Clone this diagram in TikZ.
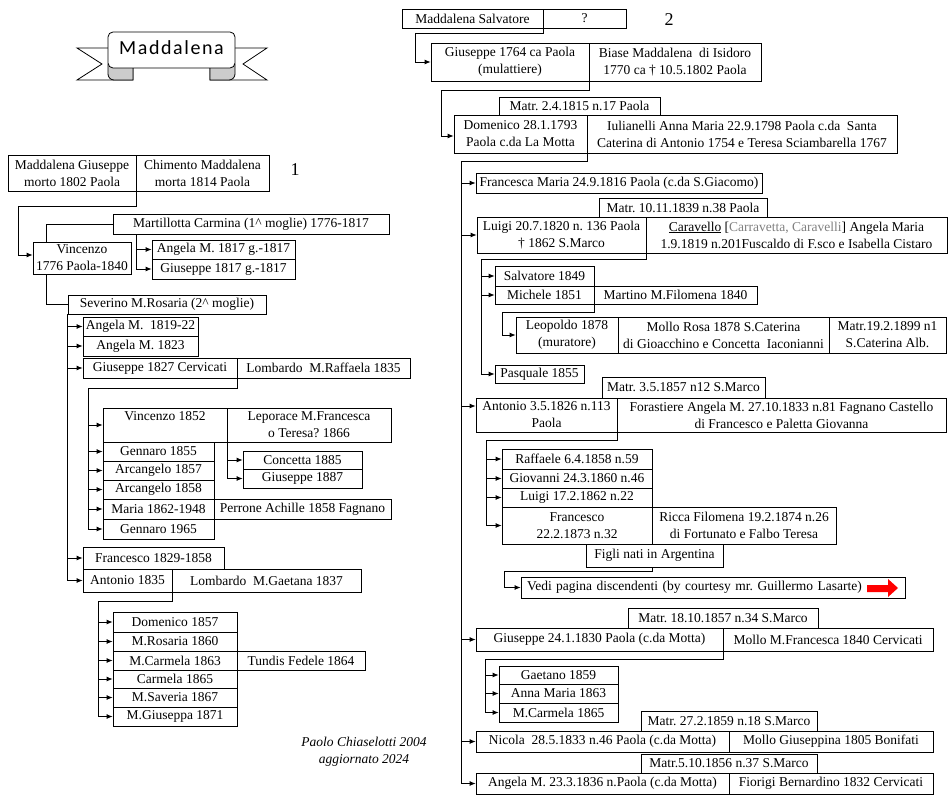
\documentclass[tikz,border=0pt]{standalone}
\usepackage{fontspec}
\setmainfont{Liberation Serif}
\newfontfamily\ribbonfont[LetterSpace=8]{Carlito}
\usetikzlibrary{arrows.meta}
\frenchspacing
\tikzset{
  bx/.style={draw, line width=0.8pt, inner sep=0pt, align=center, font=\frenchspacing\fontsize{13.5}{17}\selectfont},
  ln/.style={line width=0.8pt},
  arr/.style={line width=0.8pt, -{Latex[length=6pt,width=5pt]}},
}
\newcommand\bx[6]{\node[bx, minimum width={(#4-(#2))*1pt}, minimum height={(#5-(#3))*1pt}] (#1) at ({(#2+#4)/2},{(#3+#5)/2}) {#6};}
\begin{document}
\begin{tikzpicture}[x=1pt,y=-1pt]
\useasboundingbox (0,0) rectangle (950,800);
% ---------- ribbon ----------
\filldraw[ln, fill=white] (108,48) -- (77,48) -- (102,64) -- (77,80) -- (133,80) -- (133,67);
\filldraw[ln, fill=white] (235,48) -- (267,48) -- (243,64) -- (267,80) -- (210,80) -- (210,67);
\filldraw[ln, fill=gray!40] (108,64) -- (108,74) to[out=-90,in=180] (114,80) -- (133,80) -- (133,64) -- cycle;
\filldraw[ln, fill=gray!40] (235,64) -- (235,74) to[out=-90,in=0] (229,80) -- (210,80) -- (210,64) -- cycle;
\filldraw[ln, fill=white, rounded corners=5pt] (108,32) rectangle (235,68);
\node[font=\ribbonfont\fontsize{20}{24}\selectfont] (title) at (171.5,48) {Maddalena};
% ---------- labels ----------
\node[font=\fontsize{18}{20}\selectfont] (one) at (295,170) {1};
\node[font=\fontsize{18}{20}\selectfont] (two) at (669,20) {2};
\node[align=center, font=\itshape\fontsize{13.5}{17}\selectfont] (foot) at (364,752) {Paolo Chiaselotti 2004\\aggiornato 2024};
% ---------- left tree ----------
\bx{mg}{8}{155}{136}{191}{Maddalena Giuseppe\\morto 1802 Paola}
\bx{cm}{136}{155}{269}{191}{Chimento Maddalena\\morta 1814 Paola}
\bx{vin}{33}{242}{131}{274}{Vincenzo\\1776 Paola-1840}
\bx{mart}{113}{214}{389}{234}{Martillotta Carmina (1\textasciicircum{} moglie) 1776-1817}
\bx{ang17}{152}{240}{295}{259}{Angela M. 1817 g.-1817}
\bx{gius17}{152}{259}{295}{279}{Giuseppe 1817 g.-1817}
\bx{sev}{68}{295}{266}{314}{Severino M.Rosaria (2\textasciicircum{} moglie)}
\bx{ang19}{83}{317}{198}{336}{Angela M.\ \ 1819-22}
\bx{ang23}{83}{336}{198}{356}{Angela M. 1823}
\bx{gius27}{83}{358}{237}{378}{Giuseppe 1827 Cervicati}
\bx{lomr}{237}{358}{410}{378}{Lombardo\ \ M.Raffaela 1835}
\bx{vin52}{103}{408}{227}{442}{Vincenzo 1852\\\mbox{}}
\bx{lep}{227}{408}{391}{442}{Leporace M.Francesca\\o Teresa? 1866}
\bx{gen55}{103}{442}{214}{461}{Gennaro 1855}
\bx{arc57}{103}{461}{214}{480}{Arcangelo 1857}
\bx{arc58}{103}{480}{214}{499}{Arcangelo 1858}
\bx{mar62}{103}{499}{214}{519}{Maria 1862-1948}
\bx{gen65}{103}{519}{214}{539}{Gennaro 1965}
\bx{per}{214}{499}{391}{519}{Perrone Achille 1858 Fagnano}
\bx{con85}{243}{451}{362}{469}{Concetta 1885}
\bx{gius87}{243}{469}{362}{488}{Giuseppe 1887}
\bx{fra29}{83}{547}{224}{569}{Francesco 1829-1858}
\bx{ant35}{83}{569}{172}{592}{Antonio 1835}
\bx{lomg}{172}{569}{361}{592}{Lombardo\ \ M.Gaetana 1837}
\bx{dom57}{113}{612}{237}{632}{Domenico 1857}
\bx{ros60}{113}{632}{237}{651}{M.Rosaria 1860}
\bx{car63}{113}{651}{237}{670}{M.Carmela 1863}
\bx{tun}{237}{651}{365}{670}{Tundis Fedele 1864}
\bx{car65}{113}{670}{237}{688}{Carmela 1865}
\bx{sav67}{113}{688}{237}{707}{M.Saveria 1867}
\bx{giu71}{113}{707}{237}{726}{M.Giuseppa 1871}
% left connectors
\draw[ln] (mg.south east) |- (18,206) coordinate (jA);
\draw[arr] (jA) |- ([yshift=3pt]vin.west);
\draw[ln] ([xshift=14pt]vin.north west) |- (mart.west);
\draw[arr] ([xshift=24pt]mart.south west) |- (ang17.west);
\draw[arr] ([xshift=24pt]mart.south west) |- (gius17.west);
\draw[ln] ([xshift=14pt]vin.south west) |- (sev.west);
\foreach \n in {ang19,ang23,gius27,fra29,ant35}{\draw[arr] (sev.south west) |- (\n.west);}
\draw[ln] (gius27.south east) |- (88,388) coordinate (jB);
\foreach \n in {vin52,gen55,arc57,arc58,mar62,gen65}{\draw[arr] (jB) |- (\n.west);}
\draw[arr] (vin52.south east) |- (con85.west);
\draw[arr] (vin52.south east) |- (gius87.west);
\draw[ln] (ant35.south east) |- (98,601) coordinate (jC);
\foreach \n in {dom57,ros60,car63,car65,sav67,giu71}{\draw[arr] (jC) |- (\n.west);}
% ---------- right tree ----------
\bx{ms}{402}{9}{543}{28}{Maddalena Salvatore}
\bx{qq}{543}{9}{626}{28}{?}
\bx{g64}{431}{43}{589}{81}{Giuseppe 1764 ca Paola\\(mulattiere)}
\bx{bia}{589}{43}{761}{81}{Biase Maddalena\ \ di Isidoro\\1770 ca † 10.5.1802 Paola}
\bx{m1815}{499}{97}{660}{115}{Matr. 2.4.1815 n.17 Paola}
\bx{dom93}{454}{115}{587}{153}{Domenico 28.1.1793\\Paola c.da La Motta}
\bx{iul}{587}{115}{897}{153}{Iulianelli Anna Maria 22.9.1798 Paola c.da\ \ Santa\\Caterina di Antonio 1754 e Teresa Sciambarella 1767}
\bx{fm}{476}{173}{762}{193}{Francesca Maria 24.9.1816 Paola (c.da S.Giacomo)}
\bx{m1839}{599}{198}{767}{217}{Matr. 10.11.1839 n.38 Paola}
\bx{lui}{477}{217}{646}{253}{Luigi 20.7.1820 n. 136 Paola\\† 1862 S.Marco}
\bx{car}{646}{217}{947}{253}{\underline{Caravello} [{\color{gray}Carravetta, Caravelli}] Angela Maria\\1.9.1819 n.201Fuscaldo di F.sco e Isabella Cistaro}
\bx{sal}{495}{266}{594}{286}{Salvatore 1849}
\bx{mic}{495}{286}{594}{304}{Michele 1851}
\bx{mart2}{594}{286}{757}{304}{Martino M.Filomena 1840}
\bx{leo}{516}{317}{618}{353}{Leopoldo 1878\\(muratore)}
\bx{mol}{618}{317}{829}{353}{Mollo Rosa 1878 S.Caterina\\di Gioacchino e Concetta\ \ Iaconianni}
\bx{m1899}{829}{317}{946}{353}{Matr.19.2.1899 n1\\S.Caterina Alb.}
\bx{pas}{495}{365}{584}{383}{Pasquale 1855}
\bx{m1857}{602}{377}{765}{398}{Matr. 3.5.1857 n12 S.Marco}
\bx{ant26}{476}{398}{617}{432}{Antonio 3.5.1826 n.113\\Paola}
\bx{for}{617}{398}{946}{432}{Forastiere Angela M. 27.10.1833 n.81 Fagnano Castello\\di Francesco e Paletta Giovanna}
\bx{raf}{502}{449}{652}{469}{Raffaele 6.4.1858 n.59}
\bx{gio}{502}{469}{652}{488}{Giovanni 24.3.1860 n.46}
\bx{lui62}{502}{488}{652}{507}{Luigi 17.2.1862 n.22}
\bx{fra73}{502}{507}{652}{544}{Francesco\\22.2.1873 n.32}
\bx{ric}{652}{507}{836}{544}{Ricca Filomena 19.2.1874 n.26\\di Fortunato e Falbo Teresa}
\bx{fig}{586}{544}{723}{567}{Figli nati in Argentina}
\node[bx, minimum height=21pt, text width=372pt, inner xsep=6pt, align=left] (ved) at (713,587.5) {Vedi pagina discendenti (by courtesy mr.\ Guillermo Lasarte)};
\fill[red] (867,585) -- (888,585) -- (888,579) -- (898,588) -- (888,597) -- (888,592) -- (867,592) -- cycle;
\bx{m1857b}{628}{608}{818}{628}{Matr. 18.10.1857 n.34 S.Marco}
\bx{g30}{476}{628}{723}{651}{Giuseppe 24.1.1830 Paola (c.da Motta)}
\bx{molf}{723}{628}{933}{651}{Mollo M.Francesca 1840 Cervicati}
\bx{gae}{499}{666}{618}{684}{Gaetano 1859}
\bx{anm}{499}{684}{618}{703}{Anna Maria 1863}
\bx{mc65}{499}{703}{618}{722}{M.Carmela 1865}
\bx{m1859}{641}{711}{817}{731}{Matr. 27.2.1859 n.18 S.Marco}
\bx{nic}{476}{731}{729}{752}{Nicola\ \ 28.5.1833 n.46 Paola (c.da Motta)}
\bx{molg}{729}{731}{933}{752}{Mollo Giuseppina 1805 Bonifati}
\bx{m1856}{641}{754}{817}{773}{Matr.5.10.1856 n.37 S.Marco}
\bx{ang36}{476}{773}{729}{794}{Angela M. 23.3.1836 n.Paola (c.da Motta)}
\bx{fio}{729}{773}{933}{794}{Fiorigi Bernardino 1832 Cervicati}
% right connectors
\draw[ln] (ms.south east) |- (415,33) coordinate (jD);
\draw[arr] (jD) |- (g64.west);
\draw[ln] (g64.south east) |- (441,90) coordinate (jE);
\draw[arr] (jE) |- ([yshift=-2pt]dom93.west);
\draw[ln] (dom93.south east) |- (461,161) coordinate (jF);
\foreach \n in {fm,lui,g30,nic,ang36}{\draw[arr] (jF) |- (\n.west);}
\draw[arr] (jF) |- ([yshift=9pt]ant26.west);
\draw[ln] (lui.south east) |- (481,259) coordinate (jG);
\foreach \n in {sal,mic,pas}{\draw[arr] (jG) |- (\n.west);}
\draw[ln] (mic.south east) |- (502,312) coordinate (jH);
\draw[arr] (jH) |- (leo.west);
\draw[ln] (ant26.south east) |- (486,440) coordinate (jI);
\foreach \n in {raf,gio,lui62,fra73}{\draw[arr] (jI) |- (\n.west);}
\draw[ln] (fra73.east |- fig.south) |- (504,571) coordinate (jJ);
\draw[arr] (jJ) |- (ved.west);
\draw[ln] (g30.south east) |- (485,659) coordinate (jK);
\foreach \n in {gae,anm,mc65}{\draw[arr] (jK) |- (\n.west);}
\end{tikzpicture}
\end{document}
